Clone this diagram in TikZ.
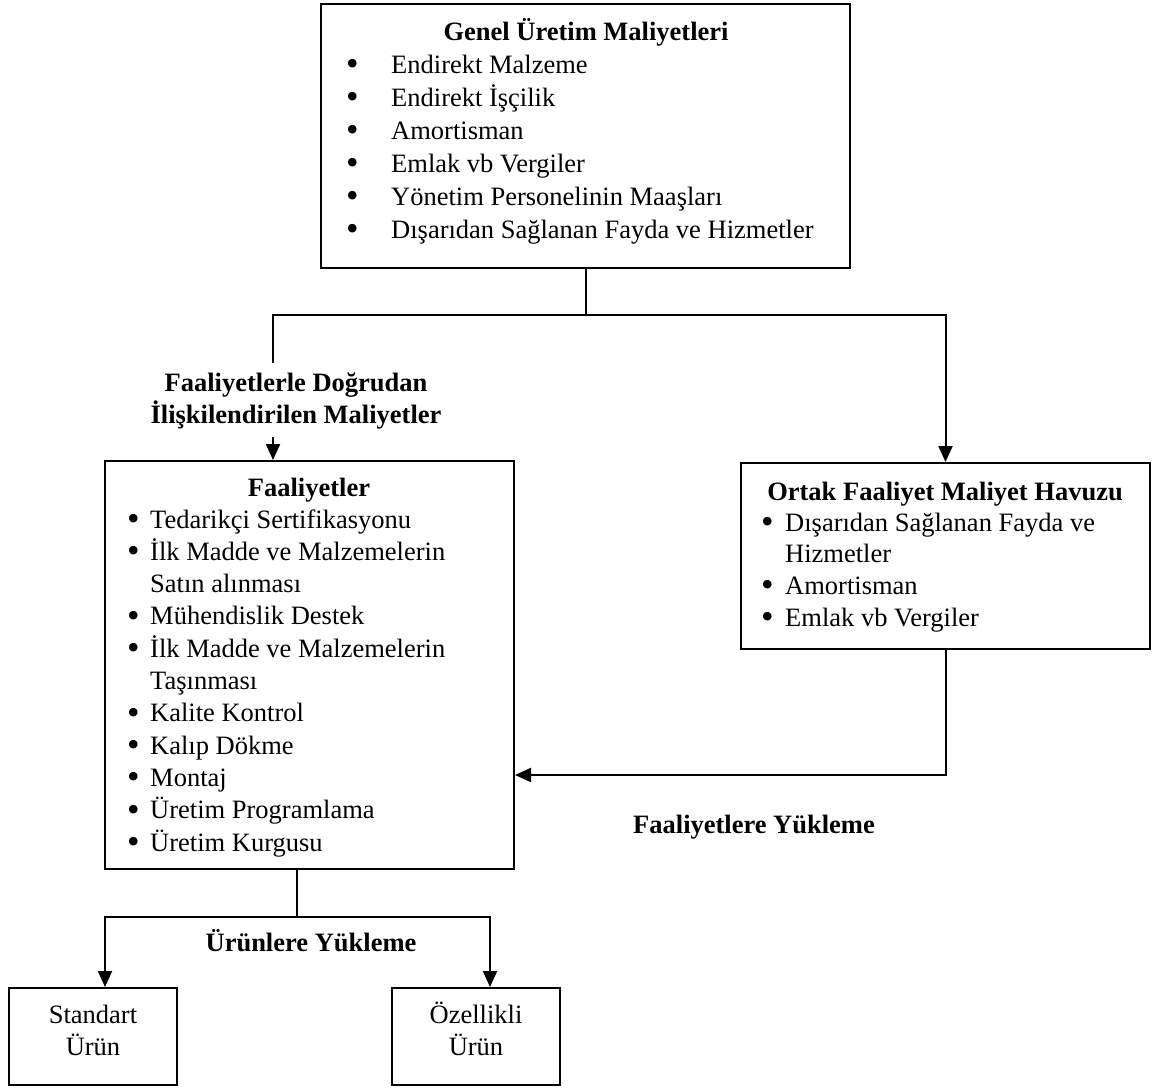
\documentclass[tikz,border=0pt]{standalone}
\usepackage{fontspec}
\setmainfont{Liberation Serif}
\usetikzlibrary{arrows.meta}
\newcommand{\bul}[1]{\makebox[#1][l]{\raisebox{-2.5pt}{\scalebox{1.35}{\textbullet}}}}
\begin{document}
\begin{tikzpicture}[x=1pt,y=-1pt,
  box/.style={draw, line width=2pt, inner sep=0pt},
  txt/.style={inner sep=0pt, font=\fontsize{26.5}{32.3}\selectfont},
  lbl/.style={inner sep=0pt, font=\fontsize{26.5}{32}\selectfont\bfseries},
  con/.style={line width=2pt},
  tip/.tip={Triangle[length=16pt,width=14pt]},
  arr/.style={con, -tip}]
\useasboundingbox (0,0) rectangle (1163,1088);
% boxes
\node[box, minimum width=529pt, minimum height=264pt] (gum) at (585.5,136) {};
\node[box, minimum width=409pt, minimum height=408pt] (fa) at (309.5,665) {};
\node[box, minimum width=409pt, minimum height=186pt] (ofm) at (945.5,556) {};
\node[box, minimum width=168pt, minimum height=97pt] (std) at (93,1036.5) {};
\node[box, minimum width=168pt, minimum height=97pt] (oz) at (476,1036.5) {};
% top box text
\node[lbl, anchor=base] (gumt) at (586,40) {Genel Üretim Maliyetleri};
\node[txt, font=\fontsize{26.5}{33}\selectfont, anchor=base west] (guml) at (346,73) {%
\begin{tabular}[t]{@{}l@{}}
\bul{45pt}Endirekt Malzeme\\
\bul{45pt}Endirekt İşçilik\\
\bul{45pt}Amortisman\\
\bul{45pt}Emlak vb Vergiler\\
\bul{45pt}Yönetim Personelinin Maaşları\\
\bul{45pt}Dışarıdan Sağlanan Fayda ve Hizmetler
\end{tabular}};
% Faaliyetler text
\node[lbl, anchor=base] (fat) at (309,496) {Faaliyetler};
\node[txt, anchor=base west] (fal) at (127,528) {%
\begin{tabular}[t]{@{}l@{}}
\bul{23pt}Tedarikçi Sertifikasyonu\\
\bul{23pt}İlk Madde ve Malzemelerin\\
\hspace*{23pt}Satın alınması\\
\bul{23pt}Mühendislik Destek\\
\bul{23pt}İlk Madde ve Malzemelerin\\
\hspace*{23pt}Taşınması\\
\bul{23pt}Kalite Kontrol\\
\bul{23pt}Kalıp Dökme\\
\bul{23pt}Montaj\\
\bul{23pt}Üretim Programlama\\
\bul{23pt}Üretim Kurgusu
\end{tabular}};
% Ortak text
\node[lbl, anchor=base] (ofmt) at (945,500) {Ortak Faaliyet Maliyet Havuzu};
\node[txt, font=\fontsize{26.5}{31.7}\selectfont, anchor=base west] (ofml) at (761,531) {%
\begin{tabular}[t]{@{}l@{}}
\bul{24pt}Dışarıdan Sağlanan Fayda ve\\
\hspace*{24pt}Hizmetler\\
\bul{24pt}Amortisman\\
\bul{24pt}Emlak vb Vergiler
\end{tabular}};
% bottom boxes text
\node[txt, anchor=base] (s1) at (93,1023) {Standart};
\node[txt, anchor=base] (s2) at (93,1055) {Ürün};
\node[txt, anchor=base] (o1) at (476,1023) {Özellikli};
\node[txt, anchor=base] (o2) at (476,1055) {Ürün};
% labels
\node[lbl, anchor=base] (l1) at (296,391) {Faaliyetlerle Doğrudan};
\node[lbl, anchor=base] (l2) at (296,423) {İlişkilendirilen Maliyetler};
\node[lbl, anchor=base] (l3) at (754,833) {Faaliyetlere Yükleme};
\node[lbl, anchor=base] (l4) at (311,951) {Ürünlere Yükleme};
% connectors
\coordinate (jc) at (585.5,315);
\coordinate (jl) at (273,315);
\coordinate (jr) at (945.5,315);
\coordinate (lvend) at (273,363);
\coordinate (la) at (273,437);
\coordinate (oc) at (945.5,775);
\coordinate (bc) at (297,917);
\coordinate (bl) at (105,917);
\coordinate (br) at (490,917);
\draw[con] (gum.south) -- (jc);
\draw[arr] (lvend) -- (jl) -- (jr) -- (ofm.north);
\draw[arr] (la) -- (la |- fa.north);
\draw[arr] (ofm.south) -- (oc) -- (oc -| fa.east);
\draw[con] (bc |- fa.south) -- (bc);
\draw[con, tip-tip] (bl |- std.north) -- (bl) -- (br) -- (br |- oz.north);
\end{tikzpicture}
\end{document}
